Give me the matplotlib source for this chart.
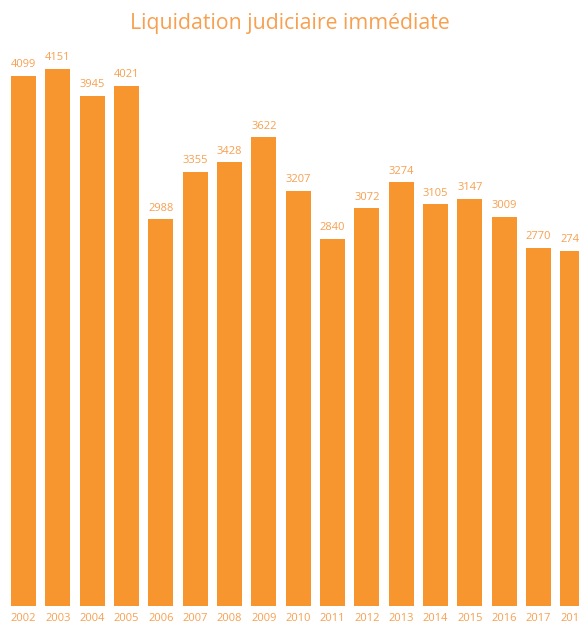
import matplotlib.pyplot as plt

years = ["2002", "2003", "2004", "2005", "2006", "2007", "2008", "2009", "2010",
         "2011", "2012", "2013", "2014", "2015", "2016", "2017", "2018"]
values = [4099, 4151, 3945, 4021, 2988, 3355, 3428, 3622, 3207,
          2840, 3072, 3274, 3105, 3147, 3009, 2770, 2746]

bar_color = "#F7952F"
text_color = "#F7A050"

plt.rcParams['font.family'] = ['Open Sans', 'DejaVu Sans']

fig = plt.figure(figsize=(5.79, 6.24), dpi=100)
ax = fig.add_axes([0, 18 / 624, 1, 566 / 624])

x = range(len(years))
bars = ax.bar(x, values, width=0.73, color=bar_color)

# value on top of each bar, year underneath (the last ones run off the right edge)
for xi, v in zip(x, values):
    ax.annotate(str(v), (xi, v), xytext=(0, 4), textcoords="offset points",
                ha="center", va="bottom", fontsize=8, color=text_color)
    ax.annotate(years[xi], (xi, 0), xytext=(0, -9.3), textcoords="offset points",
                ha="center", va="center", fontsize=8, color=text_color,
                annotation_clip=False)

ax.set_xlim(-23.5 / 34.33, (579 - 23.5) / 34.33)
ax.set_ylim(0, 566 / 0.1294)
ax.axis("off")

fig.text(0.5, 1 - 23 / 624, "Liquidation judiciaire immédiate", ha="center",
         va="center", fontsize=15.3, color=text_color)

fig.savefig("out.png", dpi=100)
